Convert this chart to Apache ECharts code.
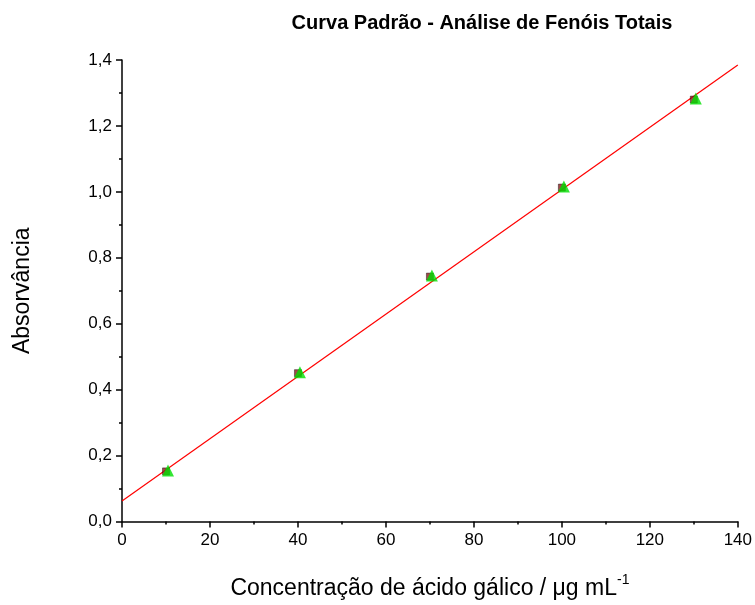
<!DOCTYPE html>
<html><head><meta charset="utf-8">
<script src="https://cdn.jsdelivr.net/npm/echarts@6/dist/echarts.min.js"></script>
<style>html,body{margin:0;padding:0;background:#fff}#c{width:755px;height:605px}</style>
</head><body><div id="c"></div>
<script>
const concentrations = [10, 40, 70, 100, 130];
const absorbances = [0.152, 0.450, 0.743, 1.013, 1.280];
const fitX = [0, 140];
const fitY = [0.062, 1.385];
const chart = echarts.init(document.getElementById('c'));
const font = 'Liberation Sans, Arial, sans-serif';
chart.setOption({
  animation: false,
  backgroundColor: '#fff',
  title: { text: 'Curva Padrão - Análise de Fenóis Totais', left: 477, top: 8, textAlign: 'center',
    textStyle: { fontFamily: font, fontSize: 20, fontWeight: 'bold', color: '#000' } },
  grid: { left: 122, right: 17, top: 60, bottom: 79 },
  xAxis: {
    type: 'value', min: 0, max: 140, interval: 20,
    splitLine: { show: false },
    axisLine: { lineStyle: { color: '#000', width: 1.5 } },
    axisTick: { inside: false, length: 6, lineStyle: { color: '#000', width: 1.5 } },
    minorTick: { show: true, splitNumber: 2, length: 3, lineStyle: { color: '#000', width: 1.5 } },
    axisLabel: { fontFamily: font, fontSize: 17, color: '#000', margin: 10 },
    name: '{a|Concentração de ácido gálico / μg mL}{s|-1}',
    nameLocation: 'middle', nameGap: 52,
    nameTextStyle: { rich: { a: { fontFamily: font, fontSize: 23, color: '#000' },
      s: { fontFamily: font, fontSize: 14, color: '#000', verticalAlign: 'top', padding: [0,0,16,0] } } }
  },
  yAxis: {
    type: 'value', min: 0, max: 1.4, interval: 0.2,
    splitLine: { show: false },
    axisLine: { lineStyle: { color: '#000', width: 1.5 } },
    axisTick: { inside: false, length: 6, lineStyle: { color: '#000', width: 1.5 } },
    minorTick: { show: true, splitNumber: 2, length: 3, lineStyle: { color: '#000', width: 1.5 } },
    axisLabel: { fontFamily: font, fontSize: 17, color: '#000', margin: 10,
      formatter: v => v.toFixed(1).replace('.', ',') },
    name: 'Absorvância', nameLocation: 'middle', nameGap: 88,
    nameTextStyle: { fontFamily: font, fontSize: 23, color: '#000' }
  },
  series: [
    { type: 'line', data: fitX.map((x, i) => [x, fitY[i]]), symbol: 'none',
      lineStyle: { color: '#ff0000', width: 1.2 }, z: 1 },
    { type: 'scatter', data: concentrations.map((x, i) => [x, absorbances[i]]), symbol: 'rect',
      symbolSize: 7, itemStyle: { color: '#8b1a1a', borderColor: '#000', borderWidth: 0.5 }, z: 2 },
    { type: 'scatter', data: concentrations.map((x, i) => [x, absorbances[i]]), symbol: 'triangle',
      symbolSize: 12, symbolOffset: [2, -1], itemStyle: { color: '#00e000' }, z: 3 }
  ]
});
</script></body></html>
